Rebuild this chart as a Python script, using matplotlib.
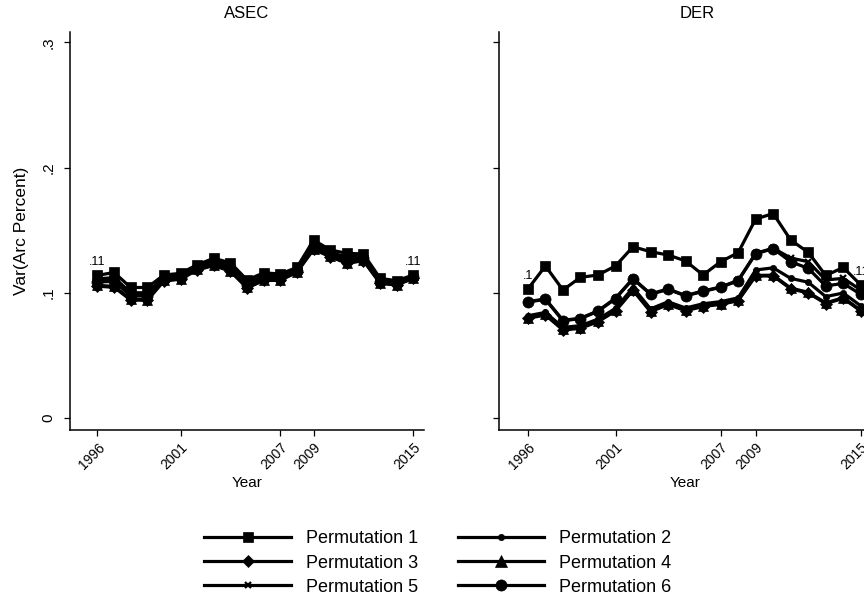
import matplotlib
matplotlib.use("Agg")
import matplotlib.pyplot as plt
from matplotlib.lines import Line2D

plt.rcParams['font.family'] = ['Liberation Sans', 'DejaVu Sans']

years = list(range(1996, 2016))
xticks = [1996, 2001, 2007, 2009, 2015]
yticks = [0, 0.1, 0.2, 0.3]
ytick_labels = ["0", ".1", ".2", ".3"]

series_names = ["Permutation 1", "Permutation 2", "Permutation 3",
                "Permutation 4", "Permutation 5", "Permutation 6"]

# ASEC variance by permutation
asec_p1 = [0.1138, 0.1161, 0.1041, 0.1041, 0.1141, 0.1154, 0.1223, 0.1274, 0.1238, 0.1101,
           0.1158, 0.1149, 0.1201, 0.1420, 0.1341, 0.1314, 0.1309, 0.1114, 0.1095, 0.1141]
asec_p2 = [0.1095, 0.1100, 0.0985, 0.0982, 0.1115, 0.1128, 0.1200, 0.1245, 0.1205, 0.1068,
           0.1126, 0.1122, 0.1180, 0.1382, 0.1312, 0.1270, 0.1280, 0.1092, 0.1078, 0.1126]
asec_p3 = [0.1051, 0.1043, 0.0941, 0.0938, 0.1093, 0.1107, 0.1181, 0.1217, 0.1170, 0.1037,
           0.1097, 0.1098, 0.1163, 0.1346, 0.1287, 0.1234, 0.1255, 0.1074, 0.1061, 0.1114]
asec_p4 = [0.1058, 0.1050, 0.0948, 0.0945, 0.1098, 0.1111, 0.1186, 0.1222, 0.1175, 0.1042,
           0.1102, 0.1103, 0.1167, 0.1350, 0.1291, 0.1238, 0.1259, 0.1077, 0.1064, 0.1117]
asec_p5 = [0.1110, 0.1120, 0.1000, 0.0998, 0.1124, 0.1137, 0.1208, 0.1254, 0.1217, 0.1078,
           0.1135, 0.1131, 0.1187, 0.1395, 0.1320, 0.1285, 0.1292, 0.1100, 0.1085, 0.1132]
asec_p6 = [0.1085, 0.1090, 0.0975, 0.0972, 0.1110, 0.1122, 0.1196, 0.1238, 0.1198, 0.1060,
           0.1120, 0.1117, 0.1176, 0.1372, 0.1306, 0.1262, 0.1274, 0.1088, 0.1073, 0.1122]

# DER variance by permutation
der_p1 = [0.1029, 0.1213, 0.1021, 0.1122, 0.1141, 0.1213, 0.1367, 0.1327, 0.1301, 0.1253,
          0.1141, 0.1247, 0.1319, 0.1588, 0.1632, 0.1420, 0.1322, 0.1137, 0.1201, 0.1061]
der_p2 = [0.0815, 0.0842, 0.0722, 0.0736, 0.0788, 0.0874, 0.1040, 0.0870, 0.0927, 0.0877,
          0.0911, 0.0928, 0.0958, 0.1181, 0.1198, 0.1114, 0.1083, 0.0968, 0.0997, 0.0894]
der_p3 = [0.0795, 0.0821, 0.0701, 0.0715, 0.0767, 0.0853, 0.1018, 0.0847, 0.0905, 0.0855,
          0.0889, 0.0906, 0.0935, 0.1133, 0.1133, 0.1030, 0.0997, 0.0912, 0.0954, 0.0853]
der_p4 = [0.0801, 0.0827, 0.0707, 0.0720, 0.0773, 0.0859, 0.1024, 0.0853, 0.0911, 0.0861,
          0.0895, 0.0912, 0.0941, 0.1138, 0.1139, 0.1036, 0.1003, 0.0918, 0.0959, 0.0859]
der_p5 = [0.0928, 0.0949, 0.0779, 0.0795, 0.0854, 0.0955, 0.1113, 0.0990, 0.1029, 0.0977,
          0.1013, 0.1045, 0.1098, 0.1314, 0.1355, 0.1277, 0.1247, 0.1101, 0.1114, 0.1021]
der_p6 = [0.0925, 0.0946, 0.0775, 0.0792, 0.0851, 0.0952, 0.1110, 0.0987, 0.1026, 0.0974,
          0.1010, 0.1042, 0.1095, 0.1311, 0.1351, 0.1247, 0.1194, 0.1053, 0.1074, 0.0986]

asec = [asec_p1, asec_p2, asec_p3, asec_p4, asec_p5, asec_p6]
der = [der_p1, der_p2, der_p3, der_p4, der_p5, der_p6]

# marker style per permutation: (marker, size)
styles = [("s", 7.5), ("o", 4.5), ("D", 6.3), ("^", 6.5), ("x", 4.5), ("o", 8.0)]
# stacking: diamonds sit over the triangles they nearly coincide with
zorders = [2.0, 2.1, 2.4, 2.2, 2.5, 2.6]
LW = 2.3


def fmt_label(v):
    s = f"{v:.2g}"
    return s[1:] if s.startswith("0") else s


def draw_panel(ax, data):
    for vals, (m, ms), z in zip(data, styles, zorders):
        mew = 1.6 if m == "x" else 0.5
        ax.plot(years, vals, color="black", lw=LW, marker=m, ms=ms,
                mfc="black", mec="black", mew=mew, solid_joinstyle="round",
                clip_on=False, zorder=z)
    first = data[0]
    for i in (0, len(years) - 1):
        ax.annotate(fmt_label(first[i]), (years[i], first[i]), xytext=(0, 5),
                    textcoords="offset points", ha="center", va="bottom",
                    fontsize=9, annotation_clip=False)
    ax.set_xlim(1994.35, 2015.64)
    ax.set_ylim(-0.0098, 0.3083)
    ax.set_xticks(xticks)
    ax.set_xticklabels([str(t) for t in xticks], rotation=45, ha="right",
                       va="top", rotation_mode="anchor", fontsize=10)
    ax.set_yticks(yticks)
    ax.spines["top"].set_visible(False)
    ax.spines["right"].set_visible(False)
    for sp in ("left", "bottom"):
        ax.spines[sp].set_linewidth(1.1)
    ax.tick_params(axis="both", direction="out", length=4.5, width=0.9, pad=3)
    ax.set_xlabel("Year", fontsize=11, labelpad=3)


fig = plt.figure(figsize=(8.64, 6.14), dpi=100)
W, H = 864.0, 614.0

ax1 = fig.add_axes([70 / W, (H - 430) / H, 354 / W, 398 / H])
ax2 = fig.add_axes([499 / W, (H - 430) / H, 373 / W, 398 / H])

draw_panel(ax1, asec)
draw_panel(ax2, der)

ax1.set_yticklabels(ytick_labels, rotation=90, va="center", fontsize=11)
ax1.tick_params(axis="y", pad=6)
ax2.set_yticklabels([])
ax1.set_ylabel("Var(Arc Percent)", fontsize=12.5, labelpad=9)

fig.text(247 / W, 1 - 14 / H, "ASEC", ha="center", va="center", fontsize=12)
fig.text(697 / W, 1 - 14 / H, "DER", ha="center", va="center", fontsize=12)

handles = []
for (m, ms), name in zip(styles, series_names):
    mew = 1.6 if m == "x" else 0.5
    lms = 8.0 if m == "^" else ms
    handles.append(Line2D([], [], color="black", lw=LW, marker=m, ms=lms,
                          mfc="black", mec="black", mew=mew, label=name))
order = [0, 2, 4, 1, 3, 5]
leg = fig.legend([handles[i] for i in order], [series_names[i] for i in order],
                 ncol=2, loc="center", bbox_to_anchor=(438 / W, 1 - 563 / H),
                 frameon=False, fontsize=13, handlelength=4.8, handletextpad=0.83,
                 columnspacing=2.2, labelspacing=0.4, numpoints=1)

fig.savefig("out.png", dpi=100)
